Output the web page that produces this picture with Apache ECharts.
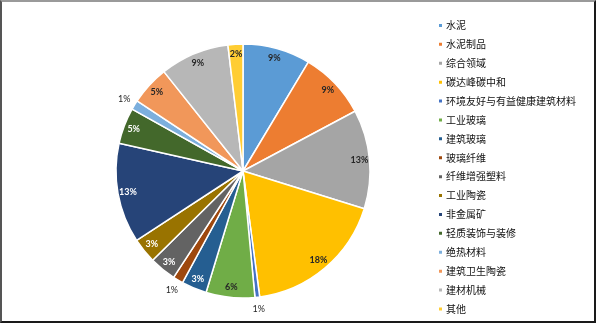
<!DOCTYPE html>
<html>
<head>
<meta charset="utf-8">
<script src="https://cdn.jsdelivr.net/npm/echarts@6/dist/echarts.min.js"></script>
<style>
  html, body { margin: 0; padding: 0; background: #fff; }
  #frame {
    position: absolute; left: 0; top: 0; width: 596px; height: 323px;
    box-sizing: border-box;
    border-top: 2px solid #9a9a9a; border-left: 2px solid #555;
    border-right: 2px solid #1a1a1a; border-bottom: 2px solid #1a1a1a;
  }
  #chart { position: absolute; left: 0; top: 0; width: 596px; height: 323px; }
</style>
</head>
<body>
<div id="chart"></div>
<div id="frame"></div>
<script>
// Share of each field (percent), clockwise from 12 o'clock
const categories = [
  '水泥', '水泥制品', '综合领域', '碳达峰碳中和', '环境友好与有益健康建筑材料',
  '工业玻璃', '建筑玻璃', '玻璃纤维', '纤维增强塑料', '工业陶瓷',
  '非金属矿', '轻质装饰与装修', '绝热材料', '建筑卫生陶瓷', '建材机械', '其他'
];
const shares = [8.6, 8.6, 12.6, 18.1, 0.6, 6.2, 3.2, 1.3, 3.4, 3.2, 12.7, 4.6, 1.2, 5.0, 8.8, 1.9];

const palette = [
  '#5B9BD5', '#ED7D31', '#A5A5A5', '#FFC000', '#4472C4',
  '#70AD47', '#255E91', '#9E480E', '#636363', '#997300',
  '#264478', '#43682B', '#7CAFDD', '#F1975A', '#B7B7B7', '#FFCD33'
];
// slices whose percentage sits outside the pie
const outsideLabels = ['环境友好与有益健康建筑材料', '玻璃纤维', '绝热材料'];
// slices dark enough to need white text
const whiteLabels = ['建筑玻璃', '纤维增强塑料', '工业陶瓷', '非金属矿', '轻质装饰与装修'];

const center = [243, 171];
const R = 127;
const pctText = p => Math.round(p.percent) + '%';

const sliceData = categories.map((name, i) => ({ name, value: shares[i] }));

const insideLabelData = categories.map((name, i) => ({
  name, value: shares[i],
  label: {
    show: !outsideLabels.includes(name),
    color: whiteLabels.includes(name) ? '#ffffff' : '#262626'
  }
}));
const outsideLabelData = categories.map((name, i) => ({
  name, value: shares[i],
  label: { show: outsideLabels.includes(name) }
}));

const labelSeriesBase = {
  type: 'pie',
  center: center,
  startAngle: 90,
  clockwise: true,
  silent: true,
  avoidLabelOverlap: false,
  legendHoverLink: false,
  itemStyle: { color: 'rgba(0,0,0,0)', borderWidth: 0 },
  labelLine: { show: false },
  emphasis: { disabled: true }
};

const chart = echarts.init(document.getElementById('chart'), null, { renderer: 'canvas' });
chart.setOption({
  animation: false,
  color: palette,
  legend: {
    orient: 'vertical',
    left: 437,
    top: 19,
    padding: 0,
    icon: 'rect',
    itemWidth: 5,
    itemHeight: 5,
    itemGap: 6,
    selectedMode: false,
    data: categories,
    textStyle: {
      fontFamily: 'Noto Sans CJK SC',
      fontSize: 10,
      lineHeight: 12.9,
      color: '#111111',
      padding: [0, 0, 0, -2]
    }
  },
  series: [
    {
      type: 'pie',
      center: center,
      radius: [0, R],
      startAngle: 90,
      clockwise: true,
      data: sliceData,
      itemStyle: { borderColor: '#ffffff', borderWidth: 1.5 },
      label: { show: false },
      labelLine: { show: false },
      emphasis: { disabled: true }
    },
    Object.assign({}, labelSeriesBase, {
      radius: [101, R],
      data: insideLabelData,
      label: {
        position: 'inside',
        formatter: pctText,
        fontFamily: 'Lato',
        fontWeight: 'bold',
        fontSize: 9
      }
    }),
    Object.assign({}, labelSeriesBase, {
      radius: [128, 144],
      data: outsideLabelData,
      label: {
        position: 'inside',
        formatter: pctText,
        fontFamily: 'Lato',
        fontSize: 9,
        color: '#262626'
      }
    })
  ]
});
</script>
</body>
</html>
